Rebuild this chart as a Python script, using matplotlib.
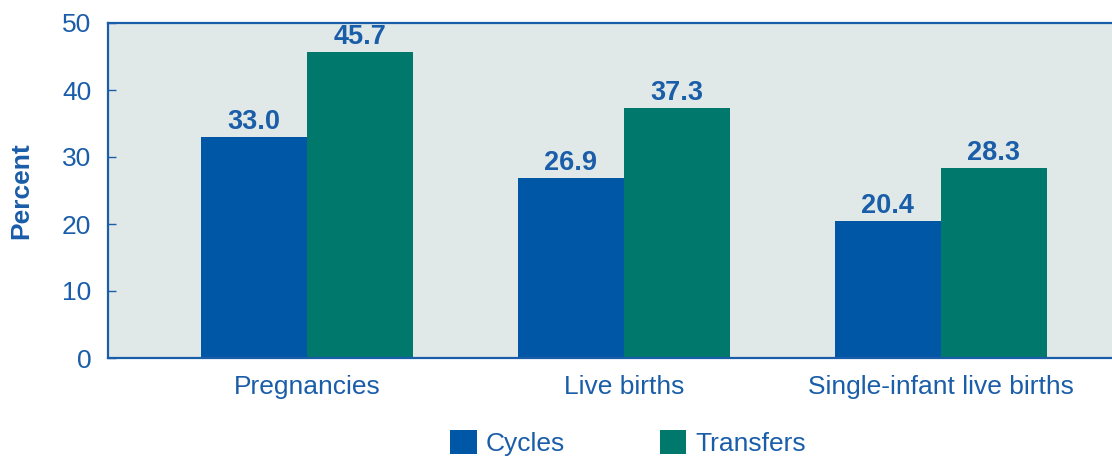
import numpy as np
import matplotlib
matplotlib.use("Agg")
import matplotlib.pyplot as plt

# data
categories = ["Pregnancies", "Live births", "Single-infant live births"]
cycles = [33.0, 26.9, 20.4]
transfers = [45.7, 37.3, 28.3]
series_names = ["Cycles", "Transfers"]

blue = "#0057A6"
green = "#00786B"
txt = "#1A5DA8"
bg = "#E0E9E8"

plt.rcParams["font.family"] = ["Liberation Sans", "DejaVu Sans"]

fig = plt.figure(figsize=(11.12, 4.59), dpi=100)
ax = fig.add_axes([108 / 1112, 101 / 459, 1004 / 1112, 335 / 459])
ax.set_facecolor(bg)

x = np.arange(len(categories))
w = 0.335
b1 = ax.bar(x - w / 2, cycles, w, color=blue, label=series_names[0], zorder=2)
b2 = ax.bar(x + w / 2, transfers, w, color=green, label=series_names[1], zorder=2)

for bars, vals in [(b1, cycles), (b2, transfers)]:
    for rect, v in zip(bars, vals):
        ax.text(rect.get_x() + rect.get_width() / 2, v + 1.2, f"{v:.1f}",
                ha="center", va="baseline", fontsize=19.5, fontweight="bold",
                color=txt, zorder=5)

ax.set_xlim(-0.628, 2.54)
ax.set_ylim(0, 50)
ax.set_yticks([0, 10, 20, 30, 40, 50])
ax.set_xticks(x)
ax.set_xticklabels(categories)

ax.tick_params(axis="y", direction="in", length=6, width=1, color=txt,
               labelsize=19, labelcolor=txt, pad=12)
ax.tick_params(axis="x", length=0, labelsize=19, labelcolor=txt, pad=12)

for s in ["left", "top", "bottom"]:
    ax.spines[s].set_color(txt)
    ax.spines[s].set_linewidth(1.6)
ax.spines["right"].set_visible(False)

ax.set_ylabel("Percent", fontsize=19, fontweight="bold", color=txt)
ax.yaxis.set_label_coords(-0.074, 0.5)

leg = fig.legend(handles=[b1, b2], loc="center", bbox_to_anchor=(0.565, 0.035),
                 ncol=2, frameon=False, fontsize=19, labelcolor=txt,
                 handlelength=1.0, handleheight=1.0, handletextpad=0.35,
                 columnspacing=3.6)

fig.savefig("out.png", dpi=100)
